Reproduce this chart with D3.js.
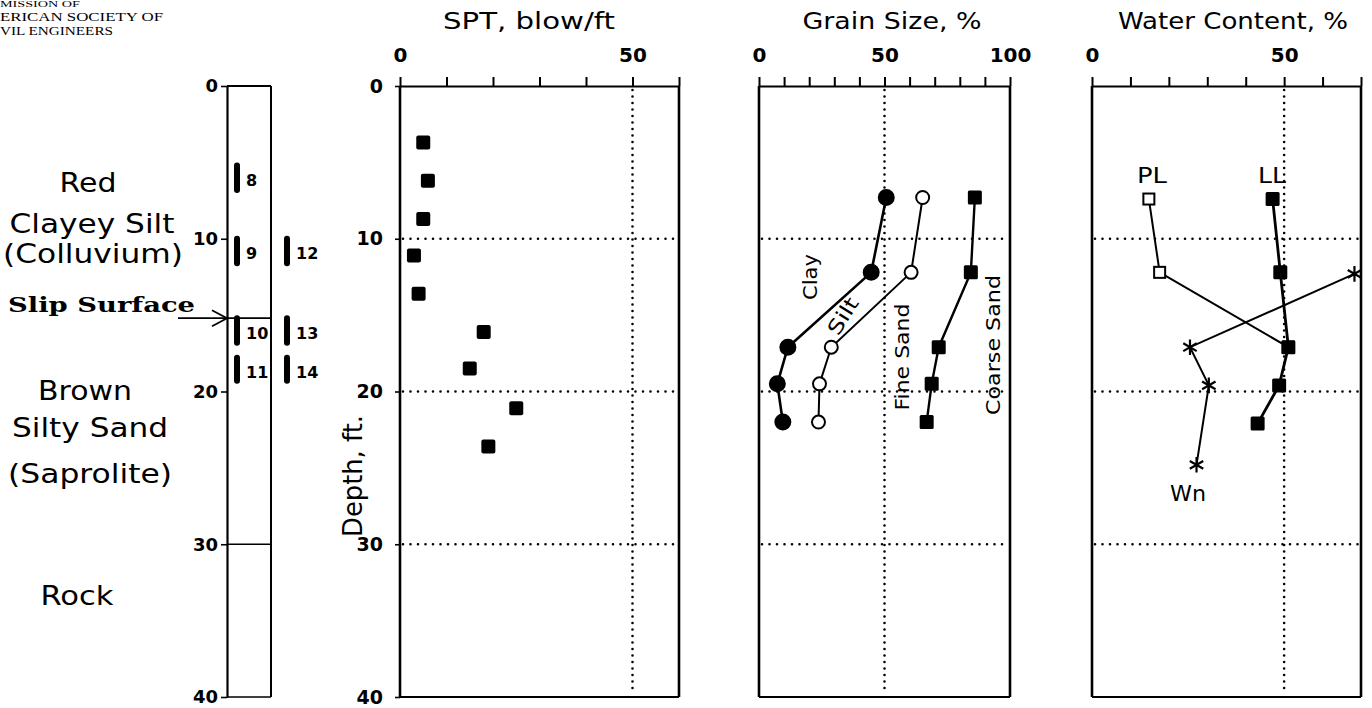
<!DOCTYPE html>
<html>
<head>
<meta charset="utf-8">
<script src="https://cdn.jsdelivr.net/npm/d3@7"></script>
<style>
  body { margin: 0; background: #fff; }
  svg { display: block; }
</style>
</head>
<body>
<svg width="1372" height="708"></svg>
<script>
// depth in ft, shared by every panel
const depthTicks = [0, 10, 20, 30, 40];

// boring log samples
const sampleIds = [8, 9, 10, 11, 12, 13, 14];
const sampleHole = ["A", "A", "A", "A", "B", "B", "B"];
const sampleTop = [5.0, 9.8, 15.0, 17.6, 9.8, 15.0, 17.6];
const sampleBottom = [7.0, 11.8, 17.0, 19.5, 11.8, 17.0, 19.5];
const slipDepth = 15.2;
const rockDepth = 30;

// SPT
const sptDepth = [3.7, 6.2, 8.7, 11.1, 13.6, 16.1, 18.5, 21.1, 23.6];
const sptBlows = [5, 6, 5, 3, 4, 18, 15, 25, 19];

// grain size (cumulative %)
const grainDepth = [7.3, 12.2, 17.1, 19.5, 22.0];
const clayPct = [50.7, 44.7, 11.5, 7.3, 9.5];
const siltPct = [65.2, 60.6, 28.8, 24.1, 23.7];
const fineSandPct = [86.0, 84.4, 71.6, 68.8, 66.8];

// water content
const limitDepth = [7.4, 12.2, 17.1, 19.6, 22.1];
const plasticLimit = [14.8, 17.6, 51.1];
const liquidLimit = [47.0, 49.0, 51.1, 48.7, 43.1];
const wnDepth = [12.3, 17.1, 19.6, 24.8];
const wnPct = [68.3, 25.5, 30.4, 27.2];

const svg = d3.select("svg");
const FONT = "DejaVu Sans, sans-serif";

const y = d3.scaleLinear().domain([0, 40]).range([86, 697]);

// ---------- header (visible part of the scanned credit line) ----------
const header = [["MISSION OF", 0, 7, 9, 80], ["ERICAN SOCIETY OF", 0, 21, 13, 163], ["VIL ENGINEERS", 0, 34.5, 13, 113]];
svg.selectAll(".hdr").data(header).enter().append("text")
  .attr("class", "hdr")
  .attr("x", (d) => d[1]).attr("y", (d) => d[2])
  .attr("font-family", "Liberation Serif, serif")
  .attr("font-size", (d) => d[3])
  .attr("textLength", (d) => d[4]).attr("lengthAdjust", "spacingAndGlyphs")
  .text((d) => d[0]);

// ---------- boring log ----------
const logLeft = 227;
const logRight = 271;
const hx = d3.scalePoint().domain(["A", "B"]).range([237, 287]);

const logAxis = d3.axisLeft(y).tickValues(depthTicks).tickSize(6).tickSizeOuter(0).tickPadding(3);
svg.append("g").attr("transform", `translate(${logLeft},0)`).call(logAxis)
  .call((g) => g.select(".domain").attr("stroke-width", 2.2))
  .call((g) => g.selectAll(".tick line").attr("stroke-width", 1.6))
  .call((g) => g.selectAll("text").attr("font-family", FONT).attr("font-weight", "bold").attr("font-size", 18).attr("fill", "#000"));

svg.append("line").attr("x1", logRight).attr("x2", logRight).attr("y1", y(0)).attr("y2", y(40))
  .attr("stroke", "#000").attr("stroke-width", 2);
[0, rockDepth, 40].forEach((d) => {
  svg.append("line").attr("x1", logLeft).attr("x2", logRight).attr("y1", y(d)).attr("y2", y(d))
    .attr("stroke", "#000").attr("stroke-width", d === 0 ? 2 : 1.6);
});
svg.append("line").attr("x1", 178).attr("x2", logRight).attr("y1", y(slipDepth)).attr("y2", y(slipDepth))
  .attr("stroke", "#000").attr("stroke-width", 1.8);
svg.append("path")
  .attr("d", `M${logLeft - 15},${y(slipDepth) - 8} L${logLeft},${y(slipDepth)} L${logLeft - 15},${y(slipDepth) + 8}`)
  .attr("fill", "none").attr("stroke", "#000").attr("stroke-width", 1.8);

const samples = sampleIds.map((id, i) => ({ id, hole: sampleHole[i], top: sampleTop[i], bottom: sampleBottom[i] }));
svg.selectAll(".sample").data(samples).enter().append("rect")
  .attr("class", "sample")
  .attr("x", (d) => hx(d.hole) - 3).attr("width", 6)
  .attr("y", (d) => y(d.top)).attr("height", (d) => y(d.bottom) - y(d.top))
  .attr("rx", 3).attr("fill", "#000");
svg.selectAll(".sampleLabel").data(samples).enter().append("text")
  .attr("class", "sampleLabel")
  .attr("x", (d) => hx(d.hole) + 9)
  .attr("y", (d) => (y(d.top) + y(d.bottom)) / 2 + 3)
  .attr("dominant-baseline", "central")
  .attr("font-family", FONT).attr("font-weight", "bold").attr("font-size", 16)
  .text((d) => d.id);

// stratum descriptions
const strata = [
  ["Red", 88, 192, 57], ["Clayey Silt", 92, 233, 165], ["(Colluvium)", 93, 263, 180],
  ["Brown", 85, 400, 94], ["Silty Sand", 90, 437, 156], ["(Saprolite)", 90, 483, 164],
  ["Rock", 77, 605, 73]
];
svg.selectAll(".stratum").data(strata).enter().append("text")
  .attr("class", "stratum")
  .attr("x", (d) => d[1]).attr("y", (d) => d[2])
  .attr("text-anchor", "middle")
  .attr("font-family", FONT).attr("font-size", 26)
  .attr("textLength", (d) => d[3]).attr("lengthAdjust", "spacingAndGlyphs")
  .text((d) => d[0]);
svg.append("text").attr("x", 8).attr("y", 312)
  .attr("font-family", "DejaVu Serif, serif").attr("font-weight", "bold").attr("font-size", 20)
  .attr("textLength", 187).attr("lengthAdjust", "spacingAndGlyphs")
  .text("Slip Surface");

// ---------- panel frame helper ----------
function drawFrame(x, maxVal, labels, title, titleX, titleLen) {
  const g = svg.append("g");
  const [x0, x1] = x.range();
  const axis = d3.axisTop(x).tickValues(d3.range(0, maxVal + 1, 10))
    .tickSize(9).tickSizeOuter(0).tickPadding(15)
    .tickFormat((d) => (labels.includes(d) ? d : ""));
  g.append("g").attr("transform", `translate(0,${y(0)})`).call(axis)
    .call((a) => a.select(".domain").attr("stroke-width", 2))
    .call((a) => a.selectAll(".tick line").attr("stroke-width", 2))
    .call((a) => a.selectAll("text").attr("font-family", FONT).attr("font-weight", "bold").attr("font-size", 20).attr("fill", "#000"));

  // dotted grid
  [10, 20, 30].forEach((d) => {
    g.append("line").attr("x1", x0 + 3).attr("x2", x1 - 3).attr("y1", y(d)).attr("y2", y(d))
      .attr("stroke", "#000").attr("stroke-width", 2.6).attr("stroke-linecap", "round")
      .attr("stroke-dasharray", "0 7.5");
  });
  g.append("line").attr("x1", x(50)).attr("x2", x(50)).attr("y1", y(0) + 4).attr("y2", y(40) - 3)
    .attr("stroke", "#000").attr("stroke-width", 2.6).attr("stroke-linecap", "round")
    .attr("stroke-dasharray", "0 6.5");

  // borders
  [x0, x1].forEach((xx) => {
    g.append("line").attr("x1", xx).attr("x2", xx).attr("y1", y(0)).attr("y2", y(40))
      .attr("stroke", "#000").attr("stroke-width", 2.6);
  });
  g.append("line").attr("x1", x0).attr("x2", x1).attr("y1", y(40)).attr("y2", y(40))
    .attr("stroke", "#000").attr("stroke-width", 2.2);

  svg.append("text").attr("x", titleX).attr("y", 29)
    .attr("text-anchor", "middle")
    .attr("font-family", FONT).attr("font-size", 23)
    .attr("textLength", titleLen).attr("lengthAdjust", "spacingAndGlyphs")
    .text(title);
  return g;
}

// ---------- SPT ----------
const xSpt = d3.scaleLinear().domain([0, 60]).range([400, 679]);
drawFrame(xSpt, 60, [0, 50], "SPT, blow/ft", 529, 172);
const sptAxis = d3.axisLeft(y).tickValues(depthTicks).tickSize(5).tickSizeOuter(0).tickPadding(12);
svg.append("g").attr("transform", `translate(${xSpt(0)},0)`).call(sptAxis)
  .call((g) => g.select(".domain").remove())
  .call((g) => g.selectAll(".tick line").attr("stroke-width", 1.6))
  .call((g) => g.selectAll("text").attr("font-family", FONT).attr("font-weight", "bold").attr("font-size", 19).attr("fill", "#000"));
svg.append("text")
  .attr("transform", `translate(353,476) rotate(-90)`)
  .attr("text-anchor", "middle").attr("dominant-baseline", "central")
  .attr("font-family", FONT).attr("font-size", 26)
  .attr("textLength", 122).attr("lengthAdjust", "spacingAndGlyphs")
  .text("Depth, ft.");

const spt = sptDepth.map((d, i) => ({ depth: d, n: sptBlows[i] }));
svg.selectAll(".spt").data(spt).enter().append("rect")
  .attr("class", "spt")
  .attr("x", (d) => xSpt(d.n) - 7).attr("y", (d) => y(d.depth) - 7)
  .attr("width", 14).attr("height", 14).attr("rx", 2)
  .attr("fill", "#000");

// ---------- Grain size ----------
const xGrain = d3.scaleLinear().domain([0, 100]).range([759, 1010]);
drawFrame(xGrain, 100, [0, 50, 100], "Grain Size, %", 892, 179);

const line = (xs, ds, vals) => d3.line().x((d) => xs(d.v)).y((d) => y(d.d))(vals.map((v, i) => ({ v, d: ds[i] })));
const grainSeries = [
  { vals: clayPct, kind: "fillCircle", w: 2.6 },
  { vals: siltPct, kind: "openCircle", w: 2 },
  { vals: fineSandPct, kind: "fillSquare", w: 2.4 }
];
grainSeries.forEach((s) => {
  svg.append("path").attr("d", line(xGrain, grainDepth, s.vals))
    .attr("fill", "none").attr("stroke", "#000").attr("stroke-width", s.w);
  const pts = s.vals.map((v, i) => ({ v, d: grainDepth[i] }));
  if (s.kind === "fillSquare") {
    svg.selectAll(null).data(pts).enter().append("rect")
      .attr("x", (p) => xGrain(p.v) - 7).attr("y", (p) => y(p.d) - 7)
      .attr("width", 14).attr("height", 14).attr("rx", 1.5).attr("fill", "#000");
  } else {
    svg.selectAll(null).data(pts).enter().append("circle")
      .attr("cx", (p) => xGrain(p.v)).attr("cy", (p) => y(p.d))
      .attr("r", s.kind === "fillCircle" ? 7.5 : 6.5)
      .attr("fill", s.kind === "fillCircle" ? "#000" : "#fff")
      .attr("stroke", "#000").attr("stroke-width", 2);
  }
});
const grainLabels = [["Clay", 810, 277, -90, 46], ["Silt", 843, 316, -58, 40], ["Fine Sand", 902, 357, -90, 107], ["Coarse Sand", 993, 345, -90, 140]];
svg.selectAll(".gl").data(grainLabels).enter().append("text")
  .attr("class", "gl")
  .attr("transform", (d) => `translate(${d[1]},${d[2]}) rotate(${d[3]})`)
  .attr("text-anchor", "middle").attr("dominant-baseline", "central")
  .attr("font-family", FONT).attr("font-size", 20)
  .attr("textLength", (d) => d[4]).attr("lengthAdjust", "spacingAndGlyphs")
  .text((d) => d[0]);

// ---------- Water content ----------
const xWater = d3.scaleLinear().domain([0, 70]).range([1092, 1361]);
drawFrame(xWater, 70, [0, 50], "Water Content, %", 1233, 230);

svg.append("path").attr("d", line(xWater, limitDepth, plasticLimit))
  .attr("fill", "none").attr("stroke", "#000").attr("stroke-width", 2);
svg.append("path").attr("d", line(xWater, limitDepth, liquidLimit))
  .attr("fill", "none").attr("stroke", "#000").attr("stroke-width", 2.8);
svg.append("path").attr("d", line(xWater, wnDepth, wnPct))
  .attr("fill", "none").attr("stroke", "#000").attr("stroke-width", 2);

svg.selectAll(".pl").data(plasticLimit.map((v, i) => ({ v, d: limitDepth[i] }))).enter().append("rect")
  .attr("class", "pl")
  .attr("x", (p) => xWater(p.v) - 5.5).attr("y", (p) => y(p.d) - 5.5)
  .attr("width", 11).attr("height", 11)
  .attr("fill", "#fff").attr("stroke", "#000").attr("stroke-width", 2);
svg.selectAll(".ll").data(liquidLimit.map((v, i) => ({ v, d: limitDepth[i] }))).enter().append("rect")
  .attr("class", "ll")
  .attr("x", (p) => xWater(p.v) - 7).attr("y", (p) => y(p.d) - 7)
  .attr("width", 14).attr("height", 14).attr("rx", 1.5).attr("fill", "#000");
const star = d3.symbol().type(d3.symbolAsterisk).size(170);
svg.selectAll(".wn").data(wnPct.map((v, i) => ({ v, d: wnDepth[i] }))).enter().append("path")
  .attr("class", "wn")
  .attr("transform", (p) => `translate(${xWater(p.v)},${y(p.d)})`)
  .attr("d", star)
  .attr("fill", "none").attr("stroke", "#000").attr("stroke-width", 2.2);

const waterLabels = [["PL", 1152, 183, 30], ["LL", 1272, 183, 28], ["Wn", 1188, 501, 36]];
svg.selectAll(".wl").data(waterLabels).enter().append("text")
  .attr("class", "wl")
  .attr("x", (d) => d[1]).attr("y", (d) => d[2])
  .attr("text-anchor", "middle")
  .attr("font-family", FONT).attr("font-size", 22)
  .attr("textLength", (d) => d[3]).attr("lengthAdjust", "spacingAndGlyphs")
  .text((d) => d[0]);
</script>
</body>
</html>
